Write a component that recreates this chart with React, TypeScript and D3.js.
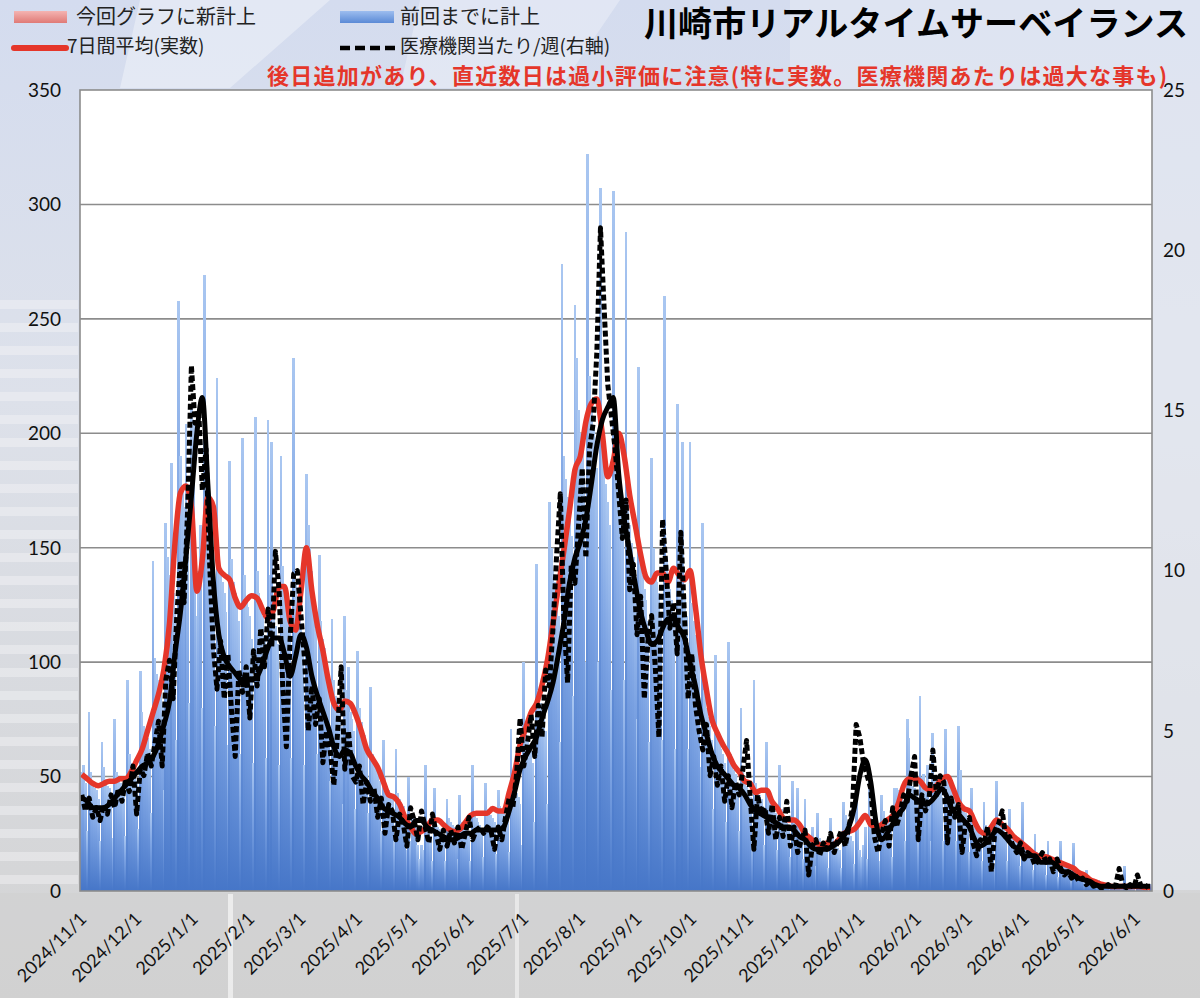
import * as d3 from "d3";

// first bar = 2024/10/31, one value per day
const START = new Date(2024, 9, 31);

// 日別報告数 (Oct 31 2024 - Feb 2 2025)
const casesLate2024 = [
  52, 55, 47, 26,
  78, 52, 47, 45, 44, 40, 22,
  65, 54, 49, 46, 45, 41, 23,
  75, 52, 48, 47, 46, 42, 24,
  92, 60, 56, 53, 52, 48, 27,
  96, 78, 72, 70, 67, 62, 34,
  144, 102, 95, 92, 88, 82, 44,
  161, 146, 138, 187, 130, 122, 66,
  258, 190, 176, 168, 204, 150, 82,
  212, 205, 150, 120, 140, 160, 80,
  269, 185, 170, 160, 150, 140, 72,
  224, 150, 140, 135, 130, 122, 64,
  188, 145, 135, 130, 126, 118, 60,
  198, 138, 128, 124, 120, 110, 56,
];

// Feb 3 2025 - Jun 22 2025
const casesEarly2025 = [
  207, 140, 130, 125, 120, 112, 58,
  206, 138, 196, 120, 116, 108, 55,
  190, 142, 132, 128, 124, 115, 58,
  233, 135, 125, 120, 116, 108, 55,
  182, 160, 150, 140, 130, 115, 60,
  147, 118, 110, 106, 100, 92, 48,
  119, 92, 85, 82, 78, 72, 38,
  120, 88, 98, 78, 75, 70, 36,
  105, 80, 74, 70, 68, 62, 34,
  89, 60, 56, 54, 52, 48, 26,
  66, 50, 46, 44, 43, 40, 22,
  62, 43, 40, 38, 37, 34, 18,
  50, 22, 34, 32, 30, 20, 14,
  20, 18, 55, 30, 28, 24, 13,
  45, 30, 28, 27, 26, 24, 13,
  40, 32, 30, 29, 28, 26, 14,
  42, 30, 28, 27, 26, 24, 13,
  55, 34, 32, 30, 29, 27, 15,
  47, 36, 34, 33, 32, 30, 16,
  44, 37, 35, 34, 33, 31, 17,
];

// Jun 23 2025 - Nov 9 2025
const casesLate2025 = [
  71, 48, 45, 43, 41, 38, 20,
  100, 70, 66, 63, 61, 56, 30,
  143, 88, 82, 78, 75, 70, 38,
  170, 150, 140, 135, 130, 120, 65,
  274, 190, 180, 172, 165, 155, 85,
  256, 233, 210, 200, 195, 182, 100,
  322, 225, 210, 202, 195, 185, 100,
  307, 200, 185, 178, 170, 160, 88,
  306, 205, 192, 185, 178, 165, 92,
  288, 170, 160, 152, 146, 135, 75,
  229, 148, 138, 132, 127, 118, 65,
  189, 150, 140, 135, 130, 120, 66,
  260, 146, 137, 132, 127, 118, 62,
  213, 146, 138, 196, 128, 120, 62,
  196, 126, 118, 112, 108, 100, 54,
  161, 88, 80, 76, 72, 66, 36,
  103, 70, 65, 62, 60, 56, 30,
  109, 60, 56, 53, 51, 47, 26,
  80, 52, 48, 46, 44, 41, 22,
  92, 47, 44, 42, 40, 37, 20,
];

// Nov 10 2025 - Jun 8 2026
const cases2026 = [
  65, 43, 40, 38, 37, 34, 18,
  55, 36, 33, 32, 31, 28, 15,
  48, 32, 30, 45, 28, 26, 14,
  40, 26, 24, 23, 28, 21, 11,
  34, 23, 21, 20, 19, 18, 10,
  32, 23, 21, 20, 19, 18, 10,
  39, 33, 26, 25, 24, 22, 12,
  45, 30, 18, 15, 20, 28, 14,
  48, 32, 29, 28, 27, 25, 13,
  42, 35, 32, 31, 30, 28, 15,
  45, 45, 44, 42, 41, 38, 22,
  75, 67, 48, 46, 45, 42, 23,
  85, 50, 51, 44, 55, 40, 22,
  69, 50, 47, 45, 44, 41, 22,
  71, 50, 47, 45, 44, 41, 22,
  72, 53, 37, 35, 34, 31, 17,
  45, 31, 29, 28, 27, 25, 13,
  39, 29, 27, 26, 25, 23, 12,
  48, 31, 29, 28, 27, 25, 13,
  36, 26, 24, 23, 22, 20, 11,
  39, 21, 20, 19, 18, 17, 9,
  25, 17, 16, 15, 15, 14, 7,
  22, 15, 14, 13, 13, 12, 6,
  22, 13, 12, 11, 11, 10, 5,
  21, 10, 9, 8, 8, 7, 4,
  9, 6, 5, 5, 4, 4, 2,
  5, 3, 3, 3, 2, 2, 1,
  3, 2, 2, 2, 2, 1, 1,
  11, 2, 2, 2, 1, 1, 0,
  4, 2, 2, 1, 2, 1, 0,
  3,
];

// 7日間平均(実数), read every 3 days from 2024/10/31
const avg7 = [
  51, 49, 47, 46, 47, 48, 48, 49, 49, 52,
  57, 62, 70, 78, 86, 97, 117, 152, 174, 177,
  168, 131, 145, 172, 168, 141, 138, 136, 128, 124,
  127, 129, 128, 123, 119, 123, 133, 133, 118, 114,
  131, 150, 131, 116, 105, 92, 82, 79, 83, 82,
  77, 70, 62, 58, 54, 48, 42, 41, 38, 32,
  28, 25, 26, 28, 31, 31, 29, 27, 26, 27,
  30, 33, 34, 34, 34, 36, 35, 35, 43, 52,
  64, 71, 78, 82, 90, 101, 117, 133, 149, 166,
  184, 190, 205, 213, 215, 200, 181, 188, 200, 190,
  173, 160, 147, 137, 135, 139, 139, 135, 141, 138,
  136, 140, 124, 103, 88, 75, 69, 64, 60, 55,
  52, 48, 47, 43, 44, 44, 39, 36, 32, 31,
  31, 29, 25, 23, 21, 20, 21, 20, 22, 25,
  26, 27, 30, 33, 29, 28, 29, 31, 33, 38,
  46, 49, 49, 48, 45, 44, 46, 49, 50, 45,
  39, 36, 35, 30, 26, 25, 28, 31, 29, 27,
  24, 22, 20, 18, 16, 15, 15, 14, 13, 12,
  11, 10, 8, 7, 5, 4, 3, 2.5, 2, 2,
  2, 2, 2, 2, 1.5, 1.5,
];

// 医療機関当たり (smoothed, right axis), every 3 days
const perClinicSmooth = [
  2.9, 2.8, 2.6, 2.6, 2.6, 2.7, 2.9, 3.1, 3.3, 3.5,
  3.7, 3.9, 4.0, 4.2, 4.6, 5.2, 5.9, 7.4, 8.7, 10.4,
  12.3, 14.3, 15.4, 12.7, 9.7, 8.0, 7.3, 7.0, 6.8, 6.6,
  6.6, 6.6, 6.7, 7.1, 7.6, 7.9, 7.9, 7.4, 6.7, 7.3,
  8.0, 7.6, 6.7, 6.1, 5.6, 5.1, 4.5, 4.2, 4.4, 4.3,
  3.9, 3.6, 3.4, 3.1, 2.9, 2.6, 2.5, 2.4, 2.3, 2.1,
  2.0, 2.2, 2.2, 2.0, 1.9, 1.8, 1.7, 1.6, 1.6, 1.7,
  1.8, 1.8, 1.9, 1.9, 1.9, 1.9, 1.9, 2.0, 2.5, 3.1,
  3.8, 4.2, 4.5, 4.8, 5.4, 5.9, 6.5, 7.4, 8.4, 9.6,
  10.4, 10.9, 11.6, 12.7, 13.9, 14.7, 15.1, 15.4, 13.0, 11.6,
  10.6, 9.6, 8.7, 8.1, 7.7, 7.8, 8.2, 8.5, 8.5, 8.2,
  7.9, 7.1, 6.4, 5.5, 4.9, 4.3, 3.9, 3.7, 3.5, 3.3,
  3.2, 3.0, 2.7, 2.5, 2.4, 2.3, 2.2, 2.1, 2.0, 2.0,
  1.9, 1.7, 1.6, 1.4, 1.3, 1.3, 1.3, 1.4, 1.5, 1.7,
  2.0, 2.6, 3.6, 4.1, 3.4, 2.1, 1.6, 1.8, 2.1, 2.4,
  2.6, 3.0, 2.9, 2.8, 2.7, 2.8, 3.0, 3.2, 2.9, 2.5,
  2.4, 2.2, 2.0, 1.6, 1.4, 1.5, 1.7, 1.9, 1.8, 1.6,
  1.4, 1.3, 1.1, 1.1, 1.1, 0.9, 0.9, 0.9, 0.8, 0.6,
  0.6, 0.5, 0.4, 0.35, 0.3, 0.2, 0.15, 0.15, 0.15, 0.15,
  0.15, 0.15, 0.15, 0.15, 0.15, 0.15,
];

// 医療機関当たり/週 (右軸), every 2 days
const perClinicWeekly = [
  3.0, 2.5, 2.9, 2.3, 2.6, 2.2, 2.7, 2.4, 3.0, 2.6,
  3.2, 2.8, 3.5, 3.1, 3.9, 2.4, 3.8, 3.6, 4.3, 3.9,
  4.6, 5.3, 3.9, 6.6, 7.2, 6.0, 8.6, 10.3, 9.0, 12.0,
  16.4, 14.6, 15.0, 12.5, 13.8, 10.2, 7.6, 6.3, 7.8, 6.0,
  7.4, 5.6, 4.2, 6.9, 6.2, 7.0, 5.4, 7.5, 6.4, 8.2,
  7.0, 8.8, 7.6, 10.6, 9.4, 6.4, 4.5, 7.8, 9.9, 10.0,
  8.6, 7.2, 5.0, 6.4, 5.2, 6.0, 4.0, 5.0, 4.4, 3.3,
  4.9, 7.0, 3.8, 5.0, 3.6, 3.4, 3.9, 2.7, 3.4, 2.8,
  3.2, 2.3, 2.9, 1.8, 2.7, 2.5, 1.6, 2.4, 2.1, 1.4,
  2.6, 2.2, 1.6, 2.5, 2.0, 1.5, 2.4, 1.8, 1.3, 1.9,
  1.4, 1.9, 1.5, 2.0, 1.3, 1.8, 2.3, 1.6, 1.9, 2.0,
  1.8, 2.0, 1.9, 1.3, 2.0, 1.6, 2.3, 2.9, 2.6, 3.6,
  5.4, 3.9, 4.6, 5.5, 4.2, 5.8, 4.8, 6.9, 6.4, 8.2,
  10.5, 12.4, 8.4, 6.5, 10.2, 9.6, 11.4, 13.2, 10.4, 13.8,
  14.6, 16.8, 20.7, 18.2, 15.8, 14.8, 13.8, 12.4, 11.0, 12.2,
  9.4, 10.2, 8.0, 9.2, 6.0, 7.8, 8.6, 7.0, 4.8, 11.6,
  10.0, 8.2, 9.0, 7.4, 11.2, 8.6, 6.0, 7.4, 5.8, 5.0,
  4.4, 5.2, 3.6, 4.2, 3.3, 3.9, 2.8, 3.6, 2.6, 3.4,
  3.0, 3.8, 4.7, 2.9, 1.3, 3.0, 2.4, 2.6, 1.8, 2.7,
  1.6, 2.3, 1.7, 2.8, 1.4, 2.0, 1.2, 1.6, 1.9, 0.5,
  1.4, 1.6, 1.1, 1.5, 1.3, 1.8, 1.2, 1.6, 1.9, 1.4,
  2.0, 2.6, 5.2, 4.8, 4.0, 3.6, 3.2, 1.7, 1.2, 1.8,
  2.2, 1.4, 2.6, 2.0, 2.4, 3.0, 2.8, 3.6, 4.2, 1.6,
  3.0, 2.5, 2.9, 4.4, 3.0, 3.6, 3.4, 1.5, 2.9, 2.3,
  2.7, 1.2, 2.2, 2.3, 1.5, 1.1, 1.6, 1.5, 2.0, 0.6,
  1.9, 2.1, 2.5, 1.6, 1.7, 1.4, 1.2, 1.5, 1.0, 1.2,
  1.1, 0.8, 1.0, 1.2, 0.9, 1.0, 0.6, 1.0, 0.7, 0.5,
  0.6, 0.4, 0.5, 0.3, 0.4, 0.2, 0.3, 0.15, 0.2, 0.1,
  0.1, 0.2, 0.1, 0.15, 0.7, 0.2, 0.1, 0.2, 0.1, 0.5, 0.15, 0.2, 0.1,
];

const monthLabels = [
  "2024/11/1", "2024/12/1", "2025/1/1", "2025/2/1", "2025/3/1", "2025/4/1",
  "2025/5/1", "2025/6/1", "2025/7/1", "2025/8/1", "2025/9/1", "2025/10/1",
  "2025/11/1", "2025/12/1", "2026/1/1", "2026/2/1", "2026/3/1", "2026/4/1",
  "2026/5/1", "2026/6/1",
];
const leftTicks = [0, 50, 100, 150, 200, 250, 300, 350];
const rightTicks = [0, 5, 10, 15, 20, 25];

const JP = "'Noto Sans CJK JP', 'Noto Sans', sans-serif";
const NUM = "Lato, 'Liberation Sans', sans-serif";
const RED = "#e5362a";

export default function App() {
  const W = 1200;
  const H = 998;
  const left = 80, right = 1152, top = 90, bottom = 891;

  const dailyCases = [...casesLate2024, ...casesEarly2025, ...casesLate2025, ...cases2026];

  const x = d3.scaleTime()
    .domain([new Date(2024, 9, 30, 12), new Date(2026, 5, 9, 12)])
    .range([left, right]);
  const yL = d3.scaleLinear().domain([0, 350]).range([bottom, top]);
  const yR = d3.scaleLinear().domain([0, 25]).range([bottom, top]);

  const dayAt = (i: number) => d3.timeHour.offset(d3.timeDay.offset(START, i), 12);
  const step = x(dayAt(1)) - x(dayAt(0));
  const bw = step + 0.9;

  const avgLine = d3.line<number>()
    .x((_, i) => x(dayAt(i * 3)))
    .y(d => yL(d))
    .curve(d3.curveMonotoneX);
  const smoothLine = d3.line<number>()
    .x((_, i) => x(dayAt(i * 3)))
    .y(d => yR(d))
    .curve(d3.curveMonotoneX);
  const weeklyLine = d3.line<number>()
    .x((_, i) => x(dayAt(i * 2)))
    .y(d => yR(d));

  const parseLabel = d3.timeParse("%Y/%m/%d");

  // faint background "building" stripes
  const windowRows = d3.range(300, 885, 23);

  return (
    <div style={{ position: "absolute", left: 0, top: 0 }}>
      <svg width={W} height={H} style={{ display: "block" }}>
        <defs>
          <linearGradient id="bg" x1="0" y1="0" x2="0" y2="1">
            <stop offset="0" stopColor="#d4dcef" />
            <stop offset="0.4" stopColor="#dde1ea" />
            <stop offset="1" stopColor="#d3d3d3" />
          </linearGradient>
          <linearGradient id="barGrad" x1="0" y1="0" x2="0" y2="1">
            <stop offset="0" stopColor="#aac7f1" />
            <stop offset="0.4" stopColor="#7ca3e3" />
            <stop offset="1" stopColor="#4676c8" />
          </linearGradient>
          <linearGradient id="pinkGrad" x1="0" y1="0" x2="0" y2="1">
            <stop offset="0" stopColor="#f4b4b2" />
            <stop offset="1" stopColor="#e07a76" />
          </linearGradient>
          <linearGradient id="blueGrad" x1="0" y1="0" x2="0" y2="1">
            <stop offset="0" stopColor="#9dbdef" />
            <stop offset="1" stopColor="#5b8ad6" />
          </linearGradient>
          <clipPath id="plotClip">
            <rect x={left} y={top} width={right - left} height={bottom - top + 4} />
          </clipPath>
        </defs>

        {/* background */}
        <rect x={0} y={0} width={W} height={H} fill="url(#bg)" />
        <polygon points="140,0 330,0 230,88 120,88" fill="#ffffff" opacity={0.35} />
        <polygon points="420,0 620,0 560,88 400,88" fill="#ffffff" opacity={0.3} />
        <rect x={790} y={0} width={410} height={90} fill="#e4e9f4" opacity={0.6} />
        <rect x={1152} y={90} width={48} height={800} fill="#e6eaf2" opacity={0.6} />
        {windowRows.map(r => (
          <rect key={r} x={0} y={r} width={78} height={9} fill="#f4f4f6" opacity={0.45} />
        ))}
        <rect x={0} y={893} width={W} height={105} fill="#cfcfcf" opacity={0.5} />
        <rect x={228} y={894} width={5} height={104} fill="#f6f6f6" opacity={0.7} />
        <rect x={515} y={894} width={4} height={104} fill="#f6f6f6" opacity={0.6} />

        {/* plot area */}
        <rect x={left} y={top} width={right - left} height={bottom - top} fill="#ffffff" />
        {leftTicks.slice(1, -1).map(t => (
          <line key={t} x1={left} x2={right} y1={yL(t)} y2={yL(t)} stroke="#8c8c8c" strokeWidth={1.6} />
        ))}

        <g shapeRendering="crispEdges">
          {dailyCases.map((v, i) =>
            v > 0 ? (
              <rect
                key={i}
                x={x(dayAt(i)) - bw / 2}
                y={yL(v)}
                width={bw}
                height={bottom - yL(v)}
                fill="url(#barGrad)"
              />
            ) : null
          )}
        </g>

        <g clipPath="url(#plotClip)" fill="none" strokeLinejoin="round">
          <path d={avgLine(avg7) ?? ""} stroke={RED} strokeWidth={5.5} />
          <path d={weeklyLine(perClinicWeekly) ?? ""} stroke="#000" strokeWidth={5} strokeDasharray="6,3" />
          <path d={smoothLine(perClinicSmooth) ?? ""} stroke="#000" strokeWidth={5} />
        </g>

        <rect x={left} y={top} width={right - left} height={bottom - top} fill="none" stroke="#8c8c8c" strokeWidth={1.6} />

        {/* axes labels */}
        {leftTicks.map(t => (
          <text key={t} x={61} y={yL(t)} dy="0.36em" textAnchor="end" fontFamily={NUM} fontSize={19} fill="#111">
            {t}
          </text>
        ))}
        {rightTicks.map(t => (
          <text key={t} x={1163} y={yR(t)} dy="0.36em" textAnchor="start" fontFamily={NUM} fontSize={19} fill="#111">
            {t}
          </text>
        ))}
        {monthLabels.map(lbl => {
          const d = parseLabel(lbl) as Date;
          return (
            <text
              key={lbl}
              transform={`translate(${x(d) + 5},${920}) rotate(-45)`}
              textAnchor="end"
              fontFamily={NUM}
              fontSize={18}
              fill="#111"
            >
              {lbl}
            </text>
          );
        })}

        {/* legend */}
        <rect x={14} y={11} width={53} height={12} fill="url(#pinkGrad)" />
        <text x={76} y={17} dy="0.35em" fontFamily={JP} fontSize={20} fill="#222">今回グラフに新計上</text>
        <rect x={340} y={11} width={54} height={12} fill="url(#blueGrad)" />
        <text x={400} y={17} dy="0.35em" fontFamily={JP} fontSize={20} fill="#222">前回までに計上</text>
        <line x1={14} x2={66} y1={48} y2={48} stroke={RED} strokeWidth={6} strokeLinecap="round" />
        <text x={67} y={46} dy="0.35em" fontFamily={JP} fontSize={19} fill="#222">7日間平均(実数)</text>
        <line x1={340} x2={395} y1={48} y2={48} stroke="#000" strokeWidth={4.5} strokeDasharray="10,5" />
        <text x={400} y={46} dy="0.35em" fontFamily={JP} fontSize={19} fill="#222">医療機関当たり/週(右軸)</text>

        {/* title */}
        <text x={1188} y={36} textAnchor="end" fontFamily={JP} fontWeight="bold" fontSize={34} fill="#000" textLength={544}>
          川崎市リアルタイムサーベイランス
        </text>
        <text x={267} y={84} fontFamily={JP} fontWeight="bold" fontSize={22} fill={RED} textLength={900}>
          後日追加があり、直近数日は過小評価に注意(特に実数。医療機関あたりは過大な事も)
        </text>
      </svg>
    </div>
  );
}
